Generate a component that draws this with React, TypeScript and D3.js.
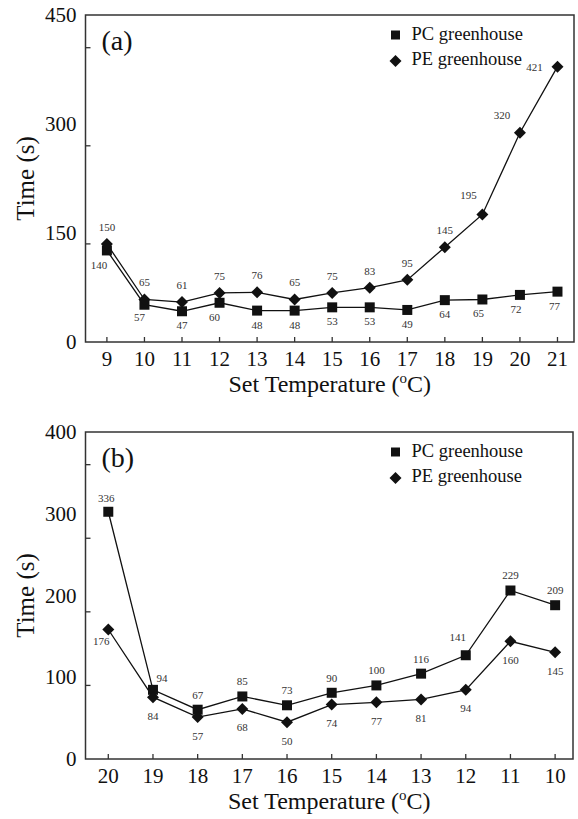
import React from 'react';
import * as d3 from 'd3';

// panel (a): heating up
const tempA = [9, 10, 11, 12, 13, 14, 15, 16, 17, 18, 19, 20, 21];
const pcA = [140, 57, 47, 60, 48, 48, 53, 53, 49, 64, 65, 72, 77];
const peA = [150, 65, 61, 75, 76, 65, 75, 83, 95, 145, 195, 320, 421];
const yTickA = [150, 300, 450];
const yLabelA = ['0', '150', '300', '450'];

// panel (b): cooling down
const tempB = [20, 19, 18, 17, 16, 15, 14, 13, 12, 11, 10];
const pcB = [336, 94, 67, 85, 73, 90, 100, 116, 141, 229, 209];
const peB = [176, 84, 57, 68, 50, 74, 77, 81, 94, 160, 145];
const yTickB = [100, 200, 300, 400];
const yLabelB = ['0', '100', '200', '300', '400'];

const FONT = 'Liberation Serif, Times New Roman, serif';
const INK = '#111';

type Box = { l: number; r: number; t: number; b: number };
type Off = { [i: number]: [number, number] };

function squarePath(cx: number, cy: number, h: number) {
  return `M${cx - h},${cy - h}h${2 * h}v${2 * h}h${-2 * h}Z`;
}
function diamondPath(cx: number, cy: number, w: number, h: number) {
  return `M${cx},${cy - h}L${cx + w},${cy}L${cx},${cy + h}L${cx - w},${cy}Z`;
}

function Panel(props: {
  box: Box;
  xDom: [number, number];
  yMax: number;
  temps: number[];
  pc: number[];
  pe: number[];
  yTicks: number[];
  yLabels: string[];
  tag: string;
  pcDy: number;
  peDy: number;
  pcOff: Off;
  peOff: Off;
}) {
  const { box, xDom, yMax, temps, pc, pe, yTicks, yLabels, tag } = props;
  const x = d3.scaleLinear().domain(xDom).range([box.l, box.r]);
  const y = d3.scaleLinear().domain([0, yMax]).range([box.b, box.t]);
  const line = d3
    .line<number>()
    .x((d, i) => x(temps[i]))
    .y((d) => y(d));

  const midX = (box.l + box.r) / 2;
  const midY = (box.t + box.b) / 2;

  return (
    <g fontFamily={FONT} fill={INK}>
      <rect x={box.l} y={box.t} width={box.r - box.l} height={box.b - box.t} fill="none" stroke="#333" strokeWidth={1.5} />
      {/* y tick marks */}
      {yTicks.map((t) => (
        <line key={'yt' + t} x1={box.l} x2={box.l + 5} y1={y(t)} y2={y(t)} stroke="#333" strokeWidth={1.3} />
      ))}
      {/* y labels spread evenly along the axis */}
      {yLabels.map((s, i) => (
        <text key={'yl' + s} x={box.l - 9} y={y((yMax * i) / (yLabels.length - 1)) + 7} fontSize={21} textAnchor="end">
          {s}
        </text>
      ))}
      {temps.map((t) => (
        <g key={'xt' + t}>
          <line x1={x(t)} x2={x(t)} y1={box.b} y2={box.b - 5} stroke="#333" strokeWidth={1.3} />
          <text x={x(t)} y={box.b + 24} fontSize={21} textAnchor="middle">
            {t}
          </text>
        </g>
      ))}
      <text x={midX} y={box.b + 50} fontSize={24} textAnchor="middle">
        Set Temperature (<tspan fontSize={15} dy={-9}>o</tspan>
        <tspan dy={9}>C)</tspan>
      </text>
      <text transform={`translate(25,${midY}) rotate(-90)`} fontSize={25} textAnchor="middle" dominantBaseline="central">
        Time (s)
      </text>
      <text x={box.l + 16} y={box.t + 35} fontSize={28}>
        {tag}
      </text>

      {/* series lines */}
      <path d={line(pc) || ''} fill="none" stroke={INK} strokeWidth={1.3} />
      <path d={line(pe) || ''} fill="none" stroke={INK} strokeWidth={1.3} />
      {pc.map((v, i) => (
        <path key={'pc' + i} d={squarePath(x(temps[i]), y(v), 5)} fill={INK} />
      ))}
      {pe.map((v, i) => (
        <path key={'pe' + i} d={diamondPath(x(temps[i]), y(v), 6, 6)} fill={INK} />
      ))}
      {/* value labels */}
      {pc.map((v, i) => {
        const o = props.pcOff[i] || [0, props.pcDy];
        return (
          <text key={'pcl' + i} x={x(temps[i]) + o[0]} y={y(v) + o[1]} fontSize={11} textAnchor="middle" dominantBaseline="central" fill="#333">
            {v}
          </text>
        );
      })}
      {pe.map((v, i) => {
        const o = props.peOff[i] || [0, props.peDy];
        return (
          <text key={'pel' + i} x={x(temps[i]) + o[0]} y={y(v) + o[1]} fontSize={11} textAnchor="middle" dominantBaseline="central" fill="#333">
            {v}
          </text>
        );
      })}

      {/* legend */}
      <path d={squarePath(box.l + 310, box.t + 20, 4.5)} fill={INK} />
      <text x={box.l + 326} y={box.t + 25} fontSize={18.5}>
        PC greenhouse
      </text>
      <path d={diamondPath(box.l + 310, box.t + 46, 6, 6)} fill={INK} />
      <text x={box.l + 326} y={box.t + 50} fontSize={18.5}>
        PE greenhouse
      </text>
    </g>
  );
}

export default function App() {
  return (
    <svg width={578} height={819} style={{ position: 'absolute', left: 0, top: 0, background: '#fff' }}>
      <Panel
        box={{ l: 85.5, r: 574, t: 15, b: 342 }}
        xDom={[8.43, 21.44]}
        yMax={500}
        temps={tempA}
        pc={pcA}
        pe={peA}
        yTicks={yTickA}
        yLabels={yLabelA}
        tag="(a)"
        pcDy={14}
        peDy={-17}
        pcOff={{ 0: [-8, 15], 1: [-5, 12], 3: [-5, 14], 10: [-4, 14], 11: [-4, 14], 12: [-3, 14] }}
        peOff={{ 10: [-14, -19], 11: [-18, -18], 12: [-23, 0] }}
      />
      <Panel
        box={{ l: 85.5, r: 573, t: 432, b: 759 }}
        xDom={[20.51, 9.6]}
        yMax={444.4}
        temps={tempB}
        pc={pcB}
        pe={peB}
        yTicks={yTickB}
        yLabels={yLabelB}
        tag="(b)"
        pcDy={-15}
        peDy={18.5}
        pcOff={{ 0: [-2, -14], 1: [9, -12], 8: [-8, -18] }}
        peOff={{ 0: [-7, 12] }}
      />
    </svg>
  );
}
